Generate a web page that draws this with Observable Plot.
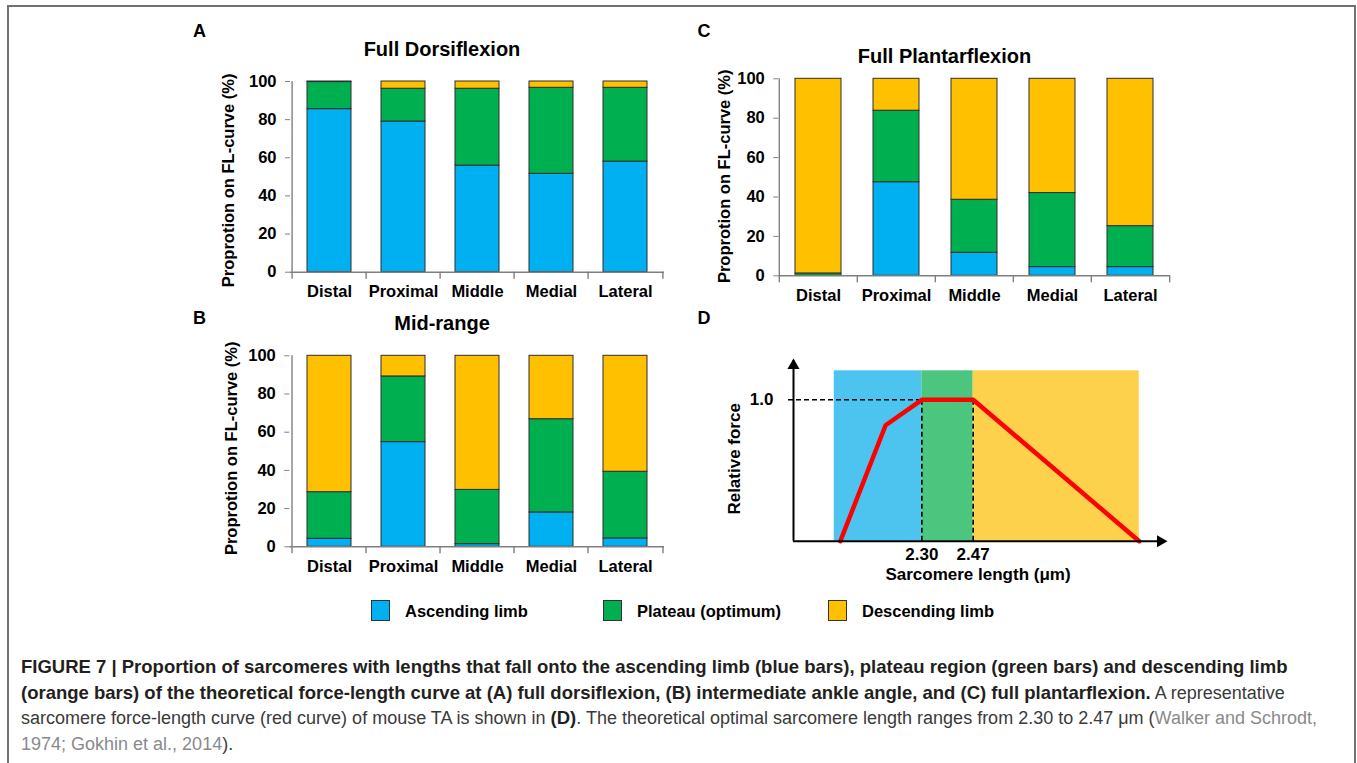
<!DOCTYPE html>
<html><head><meta charset="utf-8">
<script src="https://cdn.jsdelivr.net/npm/d3@7"></script>
<script src="https://cdn.jsdelivr.net/npm/@observablehq/plot@0.6"></script>
<style>
body{margin:0;background:#fff;font-family:"Liberation Sans",Arial,sans-serif;}
#fig{position:relative;width:1357px;height:763px;overflow:hidden;background:#fff;}
#fig svg{overflow:visible;}
.cap b{color:#231f20;font-size:18.5px;}
.cap .cite{color:#8a8a8a;}
</style></head><body><div id="fig"></div>
<script>
// ---------- data ----------
const regions = ["Distal", "Proximal", "Middle", "Medial", "Lateral"];
const limbs = ["Ascending limb", "Plateau (optimum)", "Descending limb"];
const limbColors = ["#00b0f0", "#00b050", "#ffc000"];
const yTicks = [0, 20, 40, 60, 80, 100];
const yLabel = "Proprotion on FL-curve (%)";

// A: full dorsiflexion
const ascA = [85.5, 79.0, 55.9, 51.6, 58.0];
const plaA = [14.2, 17.2, 40.3, 45.1, 38.7];
const desA = [0.3, 3.8, 3.8, 3.3, 3.3];
// B: mid-range
const ascB = [4.2, 54.8, 1.4, 18.0, 4.4];
const plaB = [24.4, 34.4, 28.4, 48.8, 34.9];
const desB = [71.4, 10.8, 70.2, 33.2, 60.7];
// C: full plantarflexion
const ascC = [0.0, 47.5, 11.7, 4.4, 4.4];
const plaC = [1.2, 36.3, 26.9, 37.6, 20.8];
const desC = [98.8, 16.2, 61.4, 58.0, 74.8];

// D: schematic force-length curve
const curveLength = [2.03, 2.18, 2.30, 2.47, 3.02];
const curveForce = [0, 0.82, 1.0, 1.0, 0];
const zoneStart = [2.01, 2.30, 2.47];
const zoneEnd = [2.30, 2.47, 3.02];
const zoneColors = ["#4dc4ef", "#4cc57f", "#fdd14c"];
const zoneTop = 1.205;
const lengthTicks = [2.30, 2.47];
const forceTicks = [1.0];
const lengthAxisMin = 1.875, lengthAxisMax = 3.107, forceAxisMax = 1.278;

// ---------- helpers ----------
const fig = document.getElementById("fig");
const FONT = "'Liberation Sans', Arial, Helvetica, sans-serif";

function textDiv(str, x, baseline, size, opts = {}) {
  const d = document.createElement("div");
  d.textContent = str;
  d.style.cssText = `position:absolute;white-space:nowrap;font-family:${FONT};font-size:${size}px;line-height:1;` +
    `font-weight:${opts.weight || "bold"};color:${opts.color || "#000"};left:${x}px;top:${baseline - 0.8465 * size}px;` +
    (opts.center ? "transform:translateX(-50%);" : "");
  fig.appendChild(d);
  return d;
}
function mount(node, left, top) {
  node.style.position = "absolute";
  node.style.left = left + "px";
  node.style.top = top + "px";
  fig.appendChild(node);
}

// frame border
const border = document.createElement("div");
border.style.cssText = "position:absolute;left:7px;top:5px;width:1349px;height:900px;border:2px solid #717171;box-sizing:border-box;";
fig.appendChild(border);

function barPanel(asc, pla, des, cfg) {
  const rows = regions.flatMap((r, i) => [asc, pla, des].map((arr, k) => ({region: r, limb: limbs[k], value: arr[i]})));
  const innerW = cfg.width - cfg.mL - cfg.mR;
  const step = innerW / regions.length;
  const axisColor = "#7f7f7f";
  const plot = Plot.plot({
    width: cfg.width, height: cfg.height,
    marginLeft: cfg.mL, marginRight: cfg.mR, marginTop: cfg.mT, marginBottom: cfg.mB,
    style: {fontFamily: FONT, fontSize: "16px", fontWeight: "bold", color: "#000", background: "transparent", overflow: "visible"},
    x: {domain: regions, paddingInner: 0.41, paddingOuter: 0.205},
    y: {domain: [0, 100]},
    color: {domain: limbs, range: limbColors},
    marks: [
      Plot.barY(rows, {x: "region", y: "value", fill: "limb", stroke: "#2e2e2e", strokeWidth: 1}),
      Plot.ruleY([0], {stroke: axisColor, strokeWidth: 1.4}),
      Plot.ruleX([regions[0]], {dx: -step / 2, stroke: axisColor, strokeWidth: 1.4}),
      Plot.ruleX(regions, {dx: -step / 2, y1: 0, y2: 0, insetBottom: -7, stroke: axisColor, strokeWidth: 1.4}),
      Plot.ruleX([regions[regions.length - 1]], {dx: step / 2, y1: 0, y2: 0, insetBottom: -7, stroke: axisColor, strokeWidth: 1.4}),
      Plot.axisY({ticks: yTicks, tickSize: 5, tickPadding: 9, stroke: axisColor, label: null, fontSize: 16.5}),
      Plot.axisX({tickSize: 0, tickPadding: cfg.xPad, label: null, fontSize: 16.5}),
      Plot.text([yLabel], {text: d => d, frameAnchor: "left", textAnchor: "middle", lineAnchor: "middle",
        dx: cfg.yLabDx, dy: cfg.yLabDy, rotate: -90, fontSize: 16.5, fontWeight: "bold", fill: "#000"})
    ]
  });
  mount(plot, cfg.left, cfg.top);
}

// Panel A
barPanel(ascA, plaA, desA, {left: 180, top: 60, width: 500, height: 250, mL: 110, mR: 16, mT: 21, mB: 38.3, xPad: 13, yLabDx: -61.5, yLabDy: 3.5});
// Panel B
barPanel(ascB, plaB, desB, {left: 180, top: 330, width: 500, height: 250, mL: 109.3, mR: 16, mT: 25.3, mB: 33.7, xPad: 13, yLabDx: -58, yLabDy: -3});
// Panel C
barPanel(ascC, plaC, desC, {left: 690, top: 60, width: 500, height: 250, mL: 88.3, mR: 20, mT: 18.3, mB: 34.7, xPad: 13, yLabDx: -54, yLabDy: -1});

// Panel D
const zones = zoneStart.map((s, i) => ({start: s, end: zoneEnd[i], color: zoneColors[i]}));
const curve = curveLength.map((l, i) => ({length: l, force: curveForce[i]}));
const dash = {stroke: "#000", strokeWidth: 1.6, strokeDasharray: "5,3"};
const dPlot = Plot.plot({
  width: 500, height: 260, marginLeft: 103, marginRight: 25, marginTop: 30, marginBottom: 49.3,
  style: {fontFamily: FONT, fontSize: "17px", fontWeight: "bold", color: "#000", background: "transparent", overflow: "visible"},
  x: {domain: [lengthAxisMin, lengthAxisMax]},
  y: {domain: [0, forceAxisMax]},
  color: {type: "identity"},
  marks: [
    Plot.rect(zones, {x1: "start", x2: "end", y1: 0, y2: zoneTop, fill: d => d.color}),
    Plot.ruleX(lengthTicks, {y1: 0, y2: 1, ...dash}),
    Plot.ruleY(forceTicks, {x1: lengthAxisMin, x2: lengthTicks[0], insetLeft: -5, ...dash}),
    Plot.line(curve, {x: "length", y: "force", stroke: "#ff0000", strokeWidth: 4.5, strokeLinejoin: "round"}),
    Plot.ruleY([0], {x1: lengthAxisMin, x2: lengthAxisMax, stroke: "#000", strokeWidth: 2}),
    Plot.ruleX([lengthAxisMin], {y1: 0, y2: forceAxisMax, stroke: "#000", strokeWidth: 2}),
    Plot.dot([{x: lengthAxisMax, y: 0}], {x: "x", y: "y", symbol: "triangle", rotate: 90, r: 4.5, fill: "#000", stroke: "none", dx: -5}),
    Plot.dot([{x: lengthAxisMin, y: forceAxisMax}], {x: "x", y: "y", symbol: "triangle", rotate: 0, r: 4.5, fill: "#000", stroke: "none", dy: 5}),
    Plot.axisX({ticks: lengthTicks, tickFormat: d3.format(".2f"), tickSize: 0, tickPadding: 7, label: null, fontSize: 17}),
    Plot.axisY({ticks: forceTicks, tickFormat: d3.format(".1f"), tickSize: 0, tickPadding: 20, label: null, fontSize: 17}),
    Plot.text(["Sarcomere length (μm)"], {text: d => d, frameAnchor: "bottom", textAnchor: "middle", lineAnchor: "middle",
      dx: -1.5, dy: 33, fontSize: 17, fontWeight: "bold", fill: "#000"}),
    Plot.text(["Relative force"], {text: d => d, frameAnchor: "left", textAnchor: "middle", lineAnchor: "middle",
      dx: -59, dy: 8, rotate: -90, fontSize: 17, fontWeight: "bold", fill: "#000"})
  ]
});
mount(dPlot, 690, 330);

// Panel letters and titles
textDiv("A", 199.5, 37, 18, {center: true});
textDiv("C", 704, 37, 18, {center: true});
textDiv("B", 199.5, 324, 18, {center: true});
textDiv("D", 704, 324, 18, {center: true});
textDiv("Full Dorsiflexion", 442, 56, 20, {center: true});
textDiv("Full Plantarflexion", 944.5, 62.5, 20, {center: true});
textDiv("Mid-range", 442, 329.5, 20, {center: true});

// Legend
const legendBoxX = [371, 603, 828];
limbs.forEach((l, i) => {
  const b = document.createElement("div");
  b.style.cssText = `position:absolute;left:${legendBoxX[i]}px;top:600px;width:19px;height:21px;background:${limbColors[i]};border:1.5px solid #333;box-sizing:border-box;`;
  fig.appendChild(b);
  textDiv(l, legendBoxX[i] + 34, 616.5, 16.5);
});

// Caption
const capLines = [
  '<b>FIGURE 7 | Proportion of sarcomeres with lengths that fall onto the ascending limb (blue bars), plateau region (green bars) and descending limb</b>',
  '<b>(orange bars) of the theoretical force-length curve at (A) full dorsiflexion, (B) intermediate ankle angle, and (C) full plantarflexion.</b> A representative',
  'sarcomere force-length curve (red curve) of mouse TA is shown in <b>(D)</b>. The theoretical optimal sarcomere length ranges from 2.30 to 2.47 μm (<span class="cite">Walker and Schrodt,</span>',
  '<span class="cite">1974; Gokhin et al., 2014</span>).'
];
capLines.forEach((html, i) => {
  const size = 18;
  const d = document.createElement("div");
  d.className = "cap";
  d.innerHTML = html;
  d.style.cssText = `position:absolute;white-space:nowrap;font-family:${FONT};font-size:${size}px;line-height:1;color:#3a3a3a;left:21px;top:${673.5 + 25.5 * i - 0.8465 * size}px;`;
  fig.appendChild(d);
});
</script>
</body></html>
